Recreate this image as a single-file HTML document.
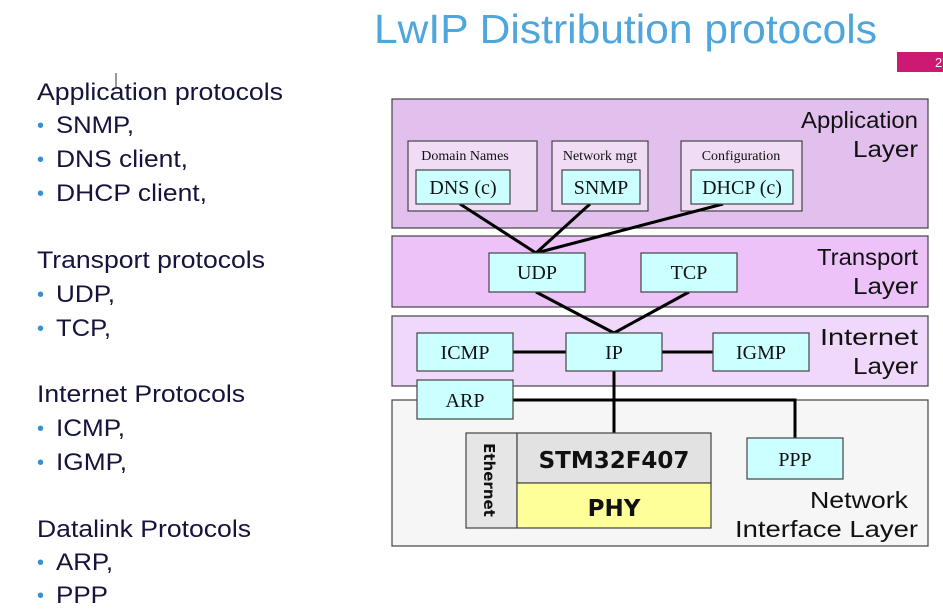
<!DOCTYPE html>
<html><head><meta charset="utf-8"><style>
html,body{margin:0;padding:0;background:#fff;width:943px;height:609px;overflow:hidden}
svg{display:block}
</style></head><body>
<svg width="943" height="609" xmlns="http://www.w3.org/2000/svg">
<text x="374" y="43" font-family="'Liberation Sans', sans-serif" font-size="41" fill="#4ea6dc" textLength="503" lengthAdjust="spacingAndGlyphs">LwIP Distribution protocols</text>
<rect x="897" y="52" width="46" height="20" fill="#cc1a73"/>
<text x="935" y="67" font-family="'Liberation Sans', sans-serif" font-size="13" fill="#fff">2</text>
<line x1="116" y1="73" x2="116" y2="87" stroke="#333" stroke-width="1"/>
<g font-family="'Liberation Sans', sans-serif" font-size="24" fill="#14143c" lengthAdjust="spacingAndGlyphs">
<text x="37" y="100" textLength="246" lengthAdjust="spacingAndGlyphs">Application protocols</text>
<text x="56" y="133" textLength="78" lengthAdjust="spacingAndGlyphs">SNMP,</text>
<text x="56" y="167" textLength="132" lengthAdjust="spacingAndGlyphs">DNS client,</text>
<text x="56" y="201" textLength="151" lengthAdjust="spacingAndGlyphs">DHCP client,</text>
<text x="37" y="268" textLength="228" lengthAdjust="spacingAndGlyphs">Transport protocols</text>
<text x="56" y="302" textLength="59" lengthAdjust="spacingAndGlyphs">UDP,</text>
<text x="56" y="336" textLength="55" lengthAdjust="spacingAndGlyphs">TCP,</text>
<text x="37" y="402" textLength="208" lengthAdjust="spacingAndGlyphs">Internet Protocols</text>
<text x="56" y="436" textLength="69" lengthAdjust="spacingAndGlyphs">ICMP,</text>
<text x="56" y="470" textLength="71" lengthAdjust="spacingAndGlyphs">IGMP,</text>
<text x="37" y="537" textLength="214" lengthAdjust="spacingAndGlyphs">Datalink Protocols</text>
<text x="56" y="570" textLength="57" lengthAdjust="spacingAndGlyphs">ARP,</text>
<text x="56" y="603" textLength="52" lengthAdjust="spacingAndGlyphs">PPP</text>
</g>
<g font-family="'Liberation Sans', sans-serif" font-size="20" fill="#3a8fd0">
<text x="37" y="132">•</text><text x="37" y="166">•</text><text x="37" y="200">•</text>
<text x="37" y="301">•</text><text x="37" y="335">•</text>
<text x="37" y="435">•</text><text x="37" y="469">•</text>
<text x="37" y="569">•</text><text x="37" y="602">•</text>
</g>
<g stroke="#444" stroke-width="1.2">
<rect x="392" y="99" width="536" height="129" fill="#e2c0ee"/>
<rect x="392" y="236" width="536" height="71" fill="#ecc2f8"/>
<rect x="392" y="316" width="536" height="70" fill="#efd8fa"/>
<rect x="392" y="400" width="536" height="146" fill="#f6f6f6"/>
<rect x="408" y="141" width="129" height="70" fill="#f0ddf5"/>
<rect x="552" y="141" width="96" height="70" fill="#f0ddf5"/>
<rect x="681" y="141" width="121" height="70" fill="#f0ddf5"/>
</g>
<g font-family="'Liberation Sans', sans-serif" font-size="23" fill="#111">
<text x="801" y="128" textLength="117" lengthAdjust="spacingAndGlyphs">Application</text><text x="853" y="157" textLength="65" lengthAdjust="spacingAndGlyphs">Layer</text>
<text x="817" y="265" textLength="101" lengthAdjust="spacingAndGlyphs">Transport</text><text x="853" y="294" textLength="65" lengthAdjust="spacingAndGlyphs">Layer</text>
<text x="820" y="345" textLength="98" lengthAdjust="spacingAndGlyphs">Internet</text><text x="853" y="374" textLength="65" lengthAdjust="spacingAndGlyphs">Layer</text>
<text x="810" y="508" textLength="98" lengthAdjust="spacingAndGlyphs">Network</text><text x="735" y="537" textLength="183" lengthAdjust="spacingAndGlyphs">Interface Layer</text>
</g>
<g stroke="#000" stroke-width="3" fill="none">
<line x1="460" y1="204" x2="536" y2="253"/>
<line x1="590" y1="204" x2="536" y2="253"/>
<line x1="723" y1="204" x2="536" y2="253"/>
<line x1="536" y1="292" x2="614" y2="333"/>
<line x1="689" y1="292" x2="614" y2="333"/>
<line x1="513" y1="352" x2="713" y2="352"/>
<line x1="614" y1="371" x2="614" y2="434"/>
<polyline points="513,400 795,400 795,438"/>
</g>
<g stroke="#444" stroke-width="1.2" fill="#ccffff">
<rect x="416" y="170" width="94" height="34"/>
<rect x="562" y="170" width="78" height="34"/>
<rect x="691" y="170" width="102" height="34"/>
<rect x="489" y="253" width="96" height="39"/>
<rect x="641" y="253" width="96" height="39"/>
<rect x="417" y="333" width="96" height="38"/>
<rect x="566" y="333" width="96" height="38"/>
<rect x="713" y="333" width="96" height="38"/>
<rect x="417" y="380" width="96" height="39"/>
<rect x="747" y="438" width="96" height="41"/>
<rect x="466" y="433" width="51" height="95" fill="#e6e6e6"/>
<rect x="517" y="433" width="194" height="50" fill="#e2e2e2"/>
<rect x="517" y="483" width="194" height="45" fill="#ffff99"/>
</g>
<g font-family="'Liberation Serif', serif" fill="#111" text-anchor="middle">
<text x="465" y="160" font-size="14">Domain Names</text>
<text x="600" y="160" font-size="14">Network mgt</text>
<text x="741" y="160" font-size="14">Configuration</text>
<g font-size="20">
<text x="463" y="194">DNS (c)</text>
<text x="601" y="194">SNMP</text>
<text x="742" y="194">DHCP (c)</text>
<text x="537" y="279">UDP</text>
<text x="689" y="279">TCP</text>
<text x="465" y="359">ICMP</text>
<text x="614" y="359">IP</text>
<text x="761" y="359">IGMP</text>
<text x="465" y="407">ARP</text>
<text x="795" y="466">PPP</text>
</g>
</g>
<g font-family="'DejaVu Sans', sans-serif" font-weight="bold" fill="#111" text-anchor="middle">
<text x="614" y="468" font-size="23">STM32F407</text>
<text x="614" y="516" font-size="23">PHY</text>
<text transform="translate(484,480) rotate(90)" font-size="15">Ethernet</text>
</g>
</svg>
</body></html>
